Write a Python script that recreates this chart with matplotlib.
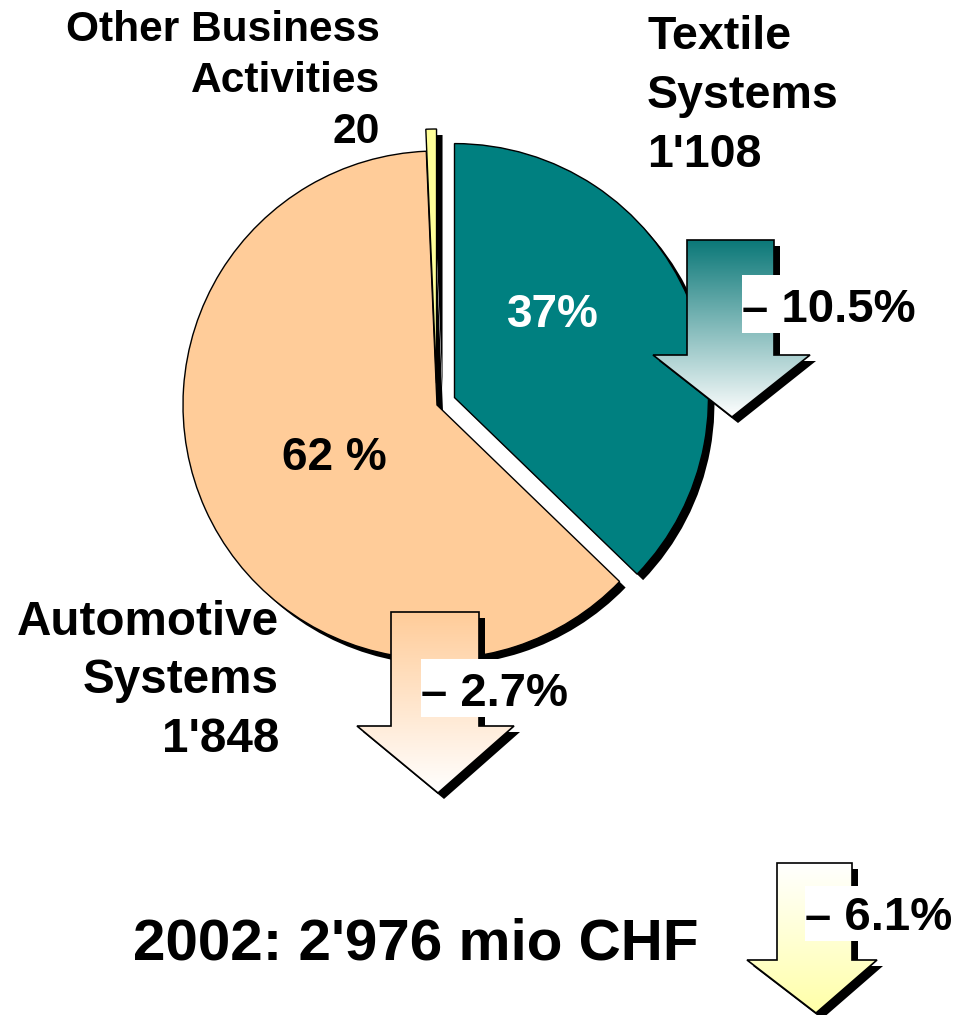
import matplotlib
matplotlib.use("Agg")
import matplotlib.pyplot as plt
import numpy as np
from matplotlib.patches import Polygon, Rectangle
from matplotlib.colors import to_rgb

# ---------------- data ----------------
segments = ["Textile\nSystems", "Automotive\nSystems", "Other Business\nActivities"]
sales = [1108, 1848, 20]
sales_labels = ["1'108", "1'848", "20"]
share_labels = ["37%", "62 %"]
change_labels = ["\u2013 10.5%", "\u2013 2.7%"]
total_label = "2002: 2'976 mio CHF"
total_change = "\u2013 6.1%"
seg_colors = ["#008080", "#FFCC99", "#FFFF99"]

# ---------------- figure ----------------
W, H = 957, 1015
fig = plt.figure(figsize=(9.57, 10.15), dpi=100)
ax = fig.add_axes([0, 0, 1, 1])


def Y(y):
    return H - y


FONT = "Liberation Sans"

# pie
cx, cy, r = 437, 405, 254
explode = [19, 0, 22]
sh = 6
ax.pie(sales, center=(cx + sh, Y(cy) - sh), radius=r, startangle=90,
       counterclock=False, explode=explode, colors=["black"] * 3,
       wedgeprops=dict(linewidth=0), frame=True)
ax.pie(sales, center=(cx, Y(cy)), radius=r, startangle=90,
       counterclock=False, explode=explode, colors=seg_colors,
       wedgeprops=dict(linewidth=1, edgecolor="black"), frame=True)


def gradient_arrow(x0, x1, ytop, yhead, hx0, hx1, tipx, tipy, ctop, cbot):
    pts = [(x0, Y(ytop)), (x1, Y(ytop)), (x1, Y(yhead)), (hx1, Y(yhead)),
           (tipx, Y(tipy)), (hx0, Y(yhead)), (x0, Y(yhead))]
    shadow = Polygon([(px + sh, py - sh) for px, py in pts], closed=True,
                     facecolor="black", edgecolor="none", zorder=3)
    ax.add_patch(shadow)
    poly = Polygon(pts, closed=True, facecolor="none", edgecolor="black",
                   linewidth=1.2, zorder=5)
    ax.add_patch(poly)
    n = 256
    t = np.linspace(0, 1, n)[:, None, None]
    c0 = np.array(to_rgb(ctop))[None, None, :]
    c1 = np.array(to_rgb(cbot))[None, None, :]
    img = c0 * (1 - t) + c1 * t
    img = np.repeat(img, 2, axis=1)
    im = ax.imshow(img, extent=[hx0, hx1, Y(tipy), Y(ytop)], origin="upper",
                   interpolation="bilinear", zorder=4)
    im.set_clip_path(poly)


gradient_arrow(687, 774, 240, 355, 653, 810, 732, 417, "#0B7878", "#FFFFFF")
gradient_arrow(391, 479, 612, 726, 357, 514, 438, 793, "#FFCC99", "#FFFFFF")
gradient_arrow(777, 852, 863, 960, 747, 877, 816, 1013, "#FFFFFF", "#FFFFA8")

# white boxes behind change labels
for (bx0, by0, bx1, by1) in [(742, 275, 925, 333), (421, 659, 575, 717),
                             (805, 886, 955, 941)]:
    ax.add_patch(Rectangle((bx0, Y(by1)), bx1 - bx0, by1 - by0,
                           facecolor="white", edgecolor="none", zorder=6))

tk = dict(family=FONT, weight="bold", zorder=7)
ax.text(742, Y(322), change_labels[0], fontsize=34, ha="left", va="baseline", **tk)
ax.text(421, Y(706), change_labels[1], fontsize=34, ha="left", va="baseline", **tk)
ax.text(805, Y(930), total_change, fontsize=34, ha="left", va="baseline", **tk)

# share labels in the pie
ax.text(553, Y(327), share_labels[0], fontsize=33, color="white", ha="center",
        va="baseline", **tk)
ax.text(334, Y(470), share_labels[1], fontsize=33, color="black", ha="center",
        va="baseline", **tk)

# segment labels (baseline = last line)
ax.text(647, Y(167), segments[0] + "\n" + sales_labels[0], fontsize=33.5,
        ha="left", va="baseline", linespacing=1.44, **tk)
ax.text(279, Y(752), segments[1] + "\n" + sales_labels[1], fontsize=34.3,
        ha="right", va="baseline", multialignment="right", linespacing=1.39, **tk)
ax.text(380, Y(143), segments[2] + "\n" + sales_labels[2], fontsize=30.6,
        ha="right", va="baseline", multialignment="right", linespacing=1.36, **tk)

# total
ax.text(133, Y(959), total_label, fontsize=42, ha="left", va="baseline", **tk)

ax.set_xlim(0, W)
ax.set_ylim(0, H)
ax.set_aspect("equal")
ax.axis("off")
fig.savefig("out.png", dpi=100, facecolor="white")
